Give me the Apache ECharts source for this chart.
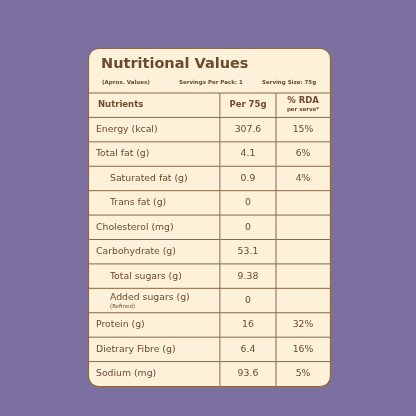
<!DOCTYPE html><html><head><meta charset="utf-8"><script src="https://cdn.jsdelivr.net/npm/echarts@6/dist/echarts.min.js"></script>
<style>html,body{margin:0;padding:0;background:#7c70a0}#c{width:416px;height:416px}</style></head><body><div id="c"></div><script>
const nutrients=["Energy (kcal)","Total fat (g)","Saturated fat (g)","Trans fat (g)","Cholesterol (mg)","Carbohydrate (g)","Total sugars (g)","Added sugars (g)","Protein (g)","Dietrary Fibre (g)","Sodium (mg)"];
const indented=[false,false,true,true,false,false,true,true,false,false,false];
const per75g=["307.6","4.1","0.9","0","0","53.1","9.38","0","16","6.4","93.6"];
const rda=["15%","6%","4%","","","","","","32%","16%","5%"];
const notes=["","","","","","","","(Refined)","","",""];
const headers=["Nutrients","Per 75g","% RDA","per serve*"];
const title="Nutritional Values";
const subtitle=["(Aprox. Values)","Servings Per Pack: 1","Serving Size: 75g"];
const rows=["header"].concat(nutrients);
const brown="#6b4a2e",line="#8a6848",F="'DejaVu Sans'";
const ch=echarts.init(document.getElementById('c'));
ch.setOption({backgroundColor:"#7c70a0",animation:false,
grid:{left:88,right:86,top:93,bottom:30},
xAxis:{type:'value',min:0,max:1,show:false},
yAxis:{type:'category',data:rows,inverse:true,show:false},
graphic:[
{type:'rect',shape:{x:88.5,y:48.5,width:242,height:338,r:10},style:{fill:"#fdf1da",stroke:line,lineWidth:1.2},z:-1},
{type:'text',left:101,top:57,style:{text:title,font:"bold 14.5px "+F,fill:brown}},
{type:'text',left:102,top:80,style:{text:subtitle[0],font:"bold 5.5px "+F,fill:brown}},
{type:'text',left:179,top:80,style:{text:subtitle[1],font:"bold 5.5px "+F,fill:brown}},
{type:'text',left:262,top:80,style:{text:subtitle[2],font:"bold 5.5px "+F,fill:brown}}],
series:[{type:'custom',data:rows.map((r,i)=>[i]),renderItem:(p,api)=>{
 const i=api.value(0);const c=api.coord([0,i]);const h=api.size([0,1])[1];
 const x0=api.coord([0,0])[0],x1=api.coord([1,0])[0],w=x1-x0;
 const cA=x0+w*0.545,cB=x0+w*0.777;const top=c[1]-h/2,cy=c[1];
 const ch2=[];
 ch2.push({type:'line',shape:{x1:x0,y1:top,x2:x1,y2:top},style:{stroke:line,lineWidth:1}});
 ch2.push({type:'line',shape:{x1:cA,y1:top,x2:cA,y2:top+h},style:{stroke:line,lineWidth:1}});
 ch2.push({type:'line',shape:{x1:cB,y1:top,x2:cB,y2:top+h},style:{stroke:line,lineWidth:1}});
 const t=(x,y,s,f,al)=>({type:'text',x:x,y:y,style:{text:s,font:f,fill:brown,align:al||'left',verticalAlign:'middle'}});
 if(i===0){
  ch2.push(t(x0+10,cy,headers[0],"bold 8.5px "+F));
  ch2.push(t((cA+cB)/2,cy,headers[1],"bold 8.5px "+F,'center'));
  ch2.push(t((cB+x1)/2,cy-4,headers[2],"bold 8.5px "+F,'center'));
  ch2.push(t((cB+x1)/2,cy+4,headers[3],"bold 5.5px "+F,'center'));
 } else {
  const k=i-1;const xi=x0+(indented[k]?22:8);
  if(notes[k]){ch2.push(t(xi,cy-3,nutrients[k],"9.3px "+F));ch2.push(t(xi,cy+6,notes[k],"5.5px "+F));}
  else ch2.push(t(xi,cy,nutrients[k],"9.3px "+F));
  ch2.push(t((cA+cB)/2,cy,per75g[k],"9.3px "+F,'center'));
  ch2.push(t((cB+x1)/2,cy,rda[k],"9.3px "+F,'center'));
 }
 return {type:'group',children:ch2};
}}]});
</script></body></html>
